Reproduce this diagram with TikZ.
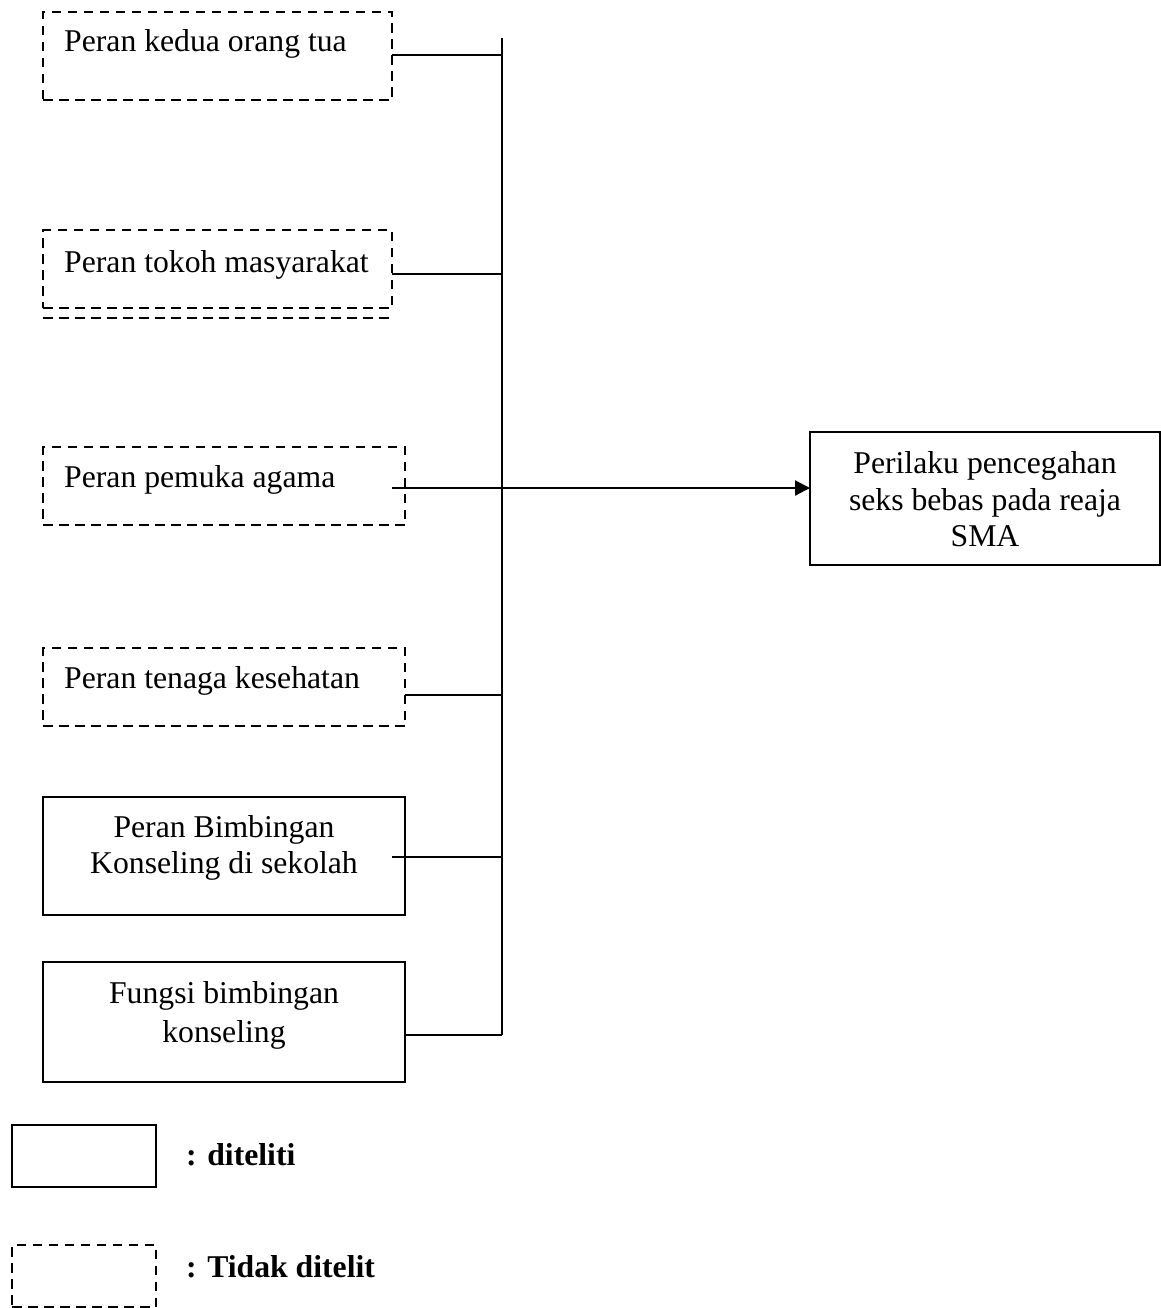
\documentclass[tikz,border=0pt]{standalone}
\usepackage{fontspec}
\setmainfont{Liberation Serif}
\usetikzlibrary{arrows.meta}
\tikzset{
  dbox/.style={draw, line width=2.6pt, dash pattern=on 9.5pt off 6.5pt, inner sep=0pt, outer sep=0pt, anchor=north west},
  sbox/.style={draw, line width=2.2pt, inner sep=0pt, outer sep=0pt, anchor=north west},
  lbl/.style={anchor=base west, inner sep=0pt, font=\fontsize{31.7}{36.5}\selectfont},
  clbl/.style={anchor=base, inner sep=0pt, font=\fontsize{31.7}{36.5}\selectfont},
  leg/.style={anchor=base west, inner sep=0pt, font=\fontsize{31.7}{36.5}\selectfont\bfseries},
  conn/.style={line width=2.2pt},
}
\begin{document}
\begin{tikzpicture}[x=1pt,y=-1pt]
\useasboundingbox (0,0) rectangle (1160,1308);
% boxes
\node[dbox, minimum width=349pt, minimum height=88pt] (b1) at (43,12) {};
\node[dbox, minimum width=349pt, minimum height=78pt] (b2) at (43,230) {};
\node[dbox, minimum width=362pt, minimum height=78pt] (b3) at (43,447) {};
\node[dbox, minimum width=362pt, minimum height=78pt] (b4) at (43,648) {};
\node[sbox, minimum width=362pt, minimum height=118pt] (b5) at (43,797) {};
\node[sbox, minimum width=362pt, minimum height=120pt] (b6) at (43,962) {};
\node[sbox, minimum width=350pt, minimum height=133pt] (t) at (810,432) {};
% extra dashed line under box 2
\coordinate (e1) at (43,318);
\coordinate (e2) at (390,318);
\draw[line width=2.6pt, dash pattern=on 9.5pt off 6.5pt] (e1) -- (e2);
% texts
\node[lbl] (t1) at (64,52) {Peran kedua orang tua};
\node[lbl] (t2) at (64,272) {Peran tokoh masyarakat};
\node[lbl] (t3) at (64,487) {Peran pemuka agama};
\node[lbl] (t4) at (64,688) {Peran tenaga kesehatan};
\node[clbl] (t5a) at (224,837) {Peran Bimbingan};
\node[clbl] (t5b) at (224,873) {Konseling di sekolah};
\node[clbl] (t6a) at (224,1003) {Fungsi bimbingan};
\node[clbl] (t6b) at (224,1042) {konseling};
\node[clbl] (tta) at (985,473) {Perilaku pencegahan};
\node[clbl] (ttb) at (985,510) {seks bebas pada reaja};
\node[clbl] (ttc) at (985,546) {SMA};
% bus
\coordinate (bt) at (502,38);
\coordinate (bb) at (502,1035);
\draw[conn] (bt) -- (bb);
\coordinate (p1) at (502,55);
\coordinate (p2) at (502,274);
\coordinate (p4) at (502,695);
\coordinate (p5) at (502,857);
\coordinate (s3) at (392,488);
\coordinate (s5) at (392,857);
\draw[conn] (b1.east |- p1) -- (p1);
\draw[conn] (b2.east |- p2) -- (p2);
\draw[conn] (b4.east |- p4) -- (p4);
\draw[conn] (s5) -- (p5);
\draw[conn] (b6.east |- bb) -- (bb);
\draw[conn, -{Triangle[length=15pt,width=15pt]}] (s3) -- (t.west |- s3);
% legend
\node[sbox, minimum width=144pt, minimum height=62pt] (l1) at (12,1125) {};
\node[dbox, minimum width=144pt, minimum height=62pt] (l2) at (12,1245) {};
\node[leg] (lt1) at (186,1165) {: diteliti};
\node[leg] (lt2) at (186,1277) {: Tidak ditelit};
\end{tikzpicture}
\end{document}
